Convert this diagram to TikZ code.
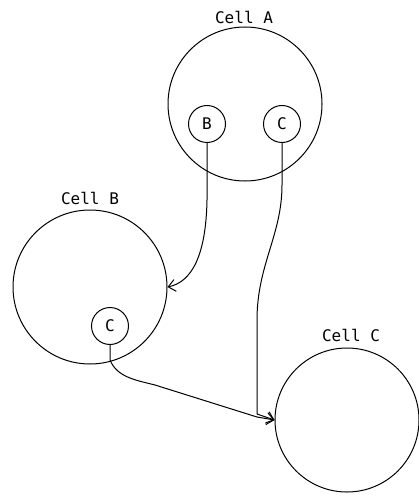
\documentclass[tikz,border=0pt]{standalone}
\usepackage{fontspec}
\setmonofont{DejaVu Sans Mono}
\usetikzlibrary{arrows.meta}
\begin{document}
\begin{tikzpicture}[x=1pt,y=-1pt,
  cell/.style={draw,circle,line width=1pt,inner sep=0pt,minimum size=#1},
  org/.style={draw,circle,line width=1pt,inner sep=0pt,minimum size=37pt,font=\ttfamily\fontsize{16}{16}\selectfont},
  lab/.style={font=\ttfamily\fontsize{16}{16}\selectfont,inner sep=0pt},
  link/.style={line width=1pt},
  arr/.style={line width=1pt,-{Straight Barb[length=7pt,width=12pt,line width=1pt]}}]
\useasboundingbox (0,0) rectangle (419,497);
% cells
\node[cell=154pt] (A) at (245,104) {};
\node[cell=154pt] (B) at (90,287) {};
\node[cell=144pt] (C) at (347,420) {};
\node[lab] (Alab) at (244,17) {Cell A};
\node[lab] (Blab) at (90,198) {Cell B};
\node[lab] (Clab) at (351,335) {Cell C};
% organelles
\node[org] (ab) at (207,124) {B};
\node[org] (ac) at (282,124) {C};
\node[org] (bc) at (110,326) {C};
% connector waypoints
\coordinate (p1) at (207,200);
\coordinate (q1) at (282,185);
\coordinate (q2) at (257,320);
\coordinate (q3) at (257,414);
\coordinate (r1) at (110,360);
\coordinate (r2) at (155,385);
\coordinate (r3) at (257,417);
% connectors
\draw[arr] (ab.south) -- (p1) .. controls (206,255) and (192,282) .. (B.east);
\draw[arr] (ac.south) -- (q1) .. controls (282,235) and (257,265) .. (q2) -- (q3) -- (C.west);
\draw[arr] (bc.south) -- (r1) .. controls (117,377) and (135,380) .. (r2) -- (r3) -- (C.west);
\end{tikzpicture}
\end{document}
